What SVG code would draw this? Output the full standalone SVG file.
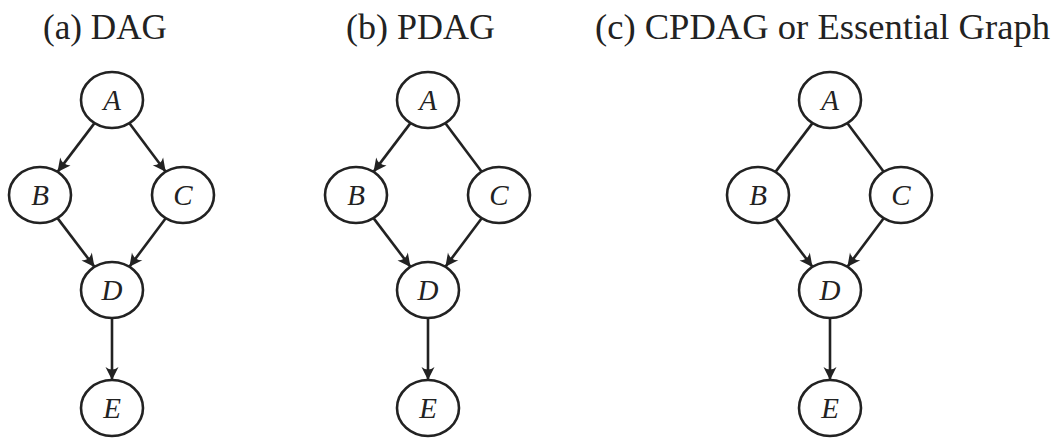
<svg xmlns="http://www.w3.org/2000/svg" width="1063" height="447" viewBox="0 0 1063 447">
<style>
.title{font-family:"Liberation Serif","DejaVu Serif",serif;font-size:35px;fill:#222;}
.node ellipse{fill:#fff;stroke:#222;stroke-width:2.6;}
.node text{font-family:"Liberation Serif","DejaVu Serif",serif;font-style:italic;font-size:29px;fill:#222;text-anchor:middle;}
.edges line{stroke:#222;stroke-width:2.6;fill:none;}
.arr{marker-end:url(#ah);}
</style>
<defs>
<marker id="ah" markerUnits="userSpaceOnUse" markerWidth="16" markerHeight="16" viewBox="-14 -8 16 16" refX="0" refY="0" orient="auto">
<path d="M0,0 L-13,-6.5 Q-8,0 -13,6.5 Z" fill="#222"/>
</marker>
</defs>
<text class="title" x="43" y="39" textLength="124" lengthAdjust="spacingAndGlyphs">(a) DAG</text>
<text class="title" x="346" y="39" textLength="149" lengthAdjust="spacingAndGlyphs">(b) PDAG</text>
<text class="title" x="595" y="39" textLength="455" lengthAdjust="spacingAndGlyphs">(c) CPDAG or Essential Graph</text>

<g id="edges" class="edges">
<g id="edges-a">
<line class="arr" x1="94.5" y1="123.1" x2="57.5" y2="171.9"/>
<line class="arr" x1="129.4" y1="123.2" x2="165.7" y2="171.8"/>
<line class="arr" x1="57.5" y1="218.1" x2="94.5" y2="266.9"/>
<line class="arr" x1="165.7" y1="218.2" x2="129.4" y2="266.8"/>
<line class="arr" x1="112" y1="318" x2="112" y2="380"/>
</g>
<g id="edges-b" transform="translate(316,0)">
<line class="arr" x1="94.5" y1="123.1" x2="57.5" y2="171.9"/>
<line x1="129.4" y1="123.2" x2="165.7" y2="171.8"/>
<line class="arr" x1="57.5" y1="218.1" x2="94.5" y2="266.9"/>
<line class="arr" x1="165.7" y1="218.2" x2="129.4" y2="266.8"/>
<line class="arr" x1="112" y1="318" x2="112" y2="380"/>
</g>
<g id="edges-c" transform="translate(718,0)">
<line x1="94.5" y1="123.1" x2="57.5" y2="171.9"/>
<line x1="129.4" y1="123.2" x2="165.7" y2="171.8"/>
<line class="arr" x1="57.5" y1="218.1" x2="94.5" y2="266.9"/>
<line class="arr" x1="165.7" y1="218.2" x2="129.4" y2="266.8"/>
<line class="arr" x1="112" y1="318" x2="112" y2="380"/>
</g>
</g>

<g id="graph-a">
<g id="a-A" class="node"><ellipse cx="112" cy="100" rx="31" ry="28"/><text x="112" y="110">A</text></g>
<g id="a-B" class="node"><ellipse cx="40" cy="195" rx="31" ry="28"/><text x="40" y="205">B</text></g>
<g id="a-C" class="node"><ellipse cx="183" cy="195" rx="31" ry="28"/><text x="183" y="205">C</text></g>
<g id="a-D" class="node"><ellipse cx="112" cy="290" rx="31" ry="28"/><text x="112" y="300">D</text></g>
<g id="a-E" class="node"><ellipse cx="112" cy="408" rx="31" ry="28"/><text x="112" y="418">E</text></g>
</g>
<g id="graph-b" transform="translate(316,0)">
<g id="b-A" class="node"><ellipse cx="112" cy="100" rx="31" ry="28"/><text x="112" y="110">A</text></g>
<g id="b-B" class="node"><ellipse cx="40" cy="195" rx="31" ry="28"/><text x="40" y="205">B</text></g>
<g id="b-C" class="node"><ellipse cx="183" cy="195" rx="31" ry="28"/><text x="183" y="205">C</text></g>
<g id="b-D" class="node"><ellipse cx="112" cy="290" rx="31" ry="28"/><text x="112" y="300">D</text></g>
<g id="b-E" class="node"><ellipse cx="112" cy="408" rx="31" ry="28"/><text x="112" y="418">E</text></g>
</g>
<g id="graph-c" transform="translate(718,0)">
<g id="c-A" class="node"><ellipse cx="112" cy="100" rx="31" ry="28"/><text x="112" y="110">A</text></g>
<g id="c-B" class="node"><ellipse cx="40" cy="195" rx="31" ry="28"/><text x="40" y="205">B</text></g>
<g id="c-C" class="node"><ellipse cx="183" cy="195" rx="31" ry="28"/><text x="183" y="205">C</text></g>
<g id="c-D" class="node"><ellipse cx="112" cy="290" rx="31" ry="28"/><text x="112" y="300">D</text></g>
<g id="c-E" class="node"><ellipse cx="112" cy="408" rx="31" ry="28"/><text x="112" y="418">E</text></g>
</g>
</svg>
